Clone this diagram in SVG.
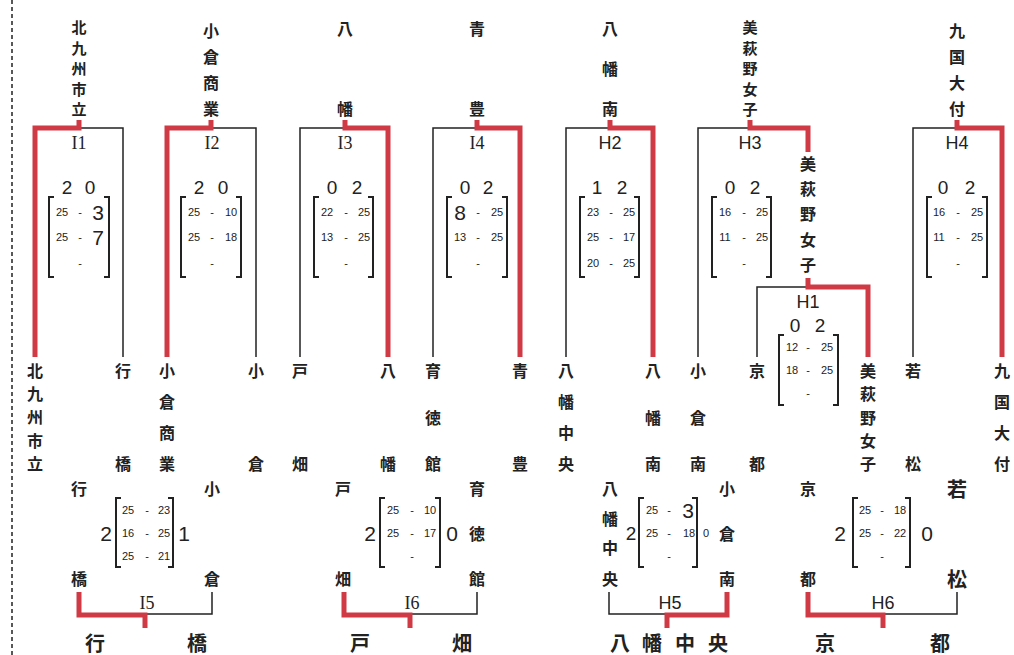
<svg xmlns="http://www.w3.org/2000/svg" width="1014" height="655" viewBox="0 0 1014 655">
<style>
.jp{font-family:"Noto Sans CJK JP","Noto Sans CJK SC",sans-serif;font-size:16px;font-weight:700;text-anchor:middle;dominant-baseline:central;fill:#222}
.tight{font-size:15px}
.win{font-size:20px}
.lbI{font-family:"Liberation Serif",serif;font-size:18px;text-anchor:middle;dominant-baseline:central;fill:#222}
.lbH{font-family:"Liberation Sans",sans-serif;font-size:18px;text-anchor:middle;dominant-baseline:central;fill:#222}
.set{font-family:"Liberation Sans",sans-serif;font-size:19px;text-anchor:middle;dominant-baseline:central;fill:#222}
.sm{font-family:"Liberation Sans",sans-serif;font-size:11px;text-anchor:middle;dominant-baseline:central;fill:#222}
.big{font-size:21px}
.red{stroke:#cf3a44;stroke-width:5;fill:none}
.blk{stroke:#222;stroke-width:1.5;fill:none}
.brk{stroke:#222;stroke-width:2;fill:none}
</style>
<rect width="1014" height="655" fill="#fff"/>
<line x1="12" y1="0" x2="12" y2="655" stroke="#222" stroke-width="1.5" stroke-dasharray="4,3"/>

<g id="connectors">
<path class="blk" d="M79 128H123V357"/><path class="red" d="M79 120V128H35V357"/>
<path class="blk" d="M211 128H256V357"/><path class="red" d="M211 120V128H167V357"/>
<path class="blk" d="M345 128H300V357"/><path class="red" d="M345 120V128H388V357"/>
<path class="blk" d="M477 128H433V357"/><path class="red" d="M477 120V128H520V357"/>
<path class="blk" d="M610 128H566V357"/><path class="red" d="M610 120V128H653V357"/>
<path class="blk" d="M750 128H698V357"/><path class="red" d="M750 120V128H808V152"/>
<path class="blk" d="M808 287H757V357"/><path class="red" d="M808 278V287H868V357"/>
<path class="blk" d="M957 128H913V357"/><path class="red" d="M957 120V128H1002V357"/>
<path class="blk" d="M145 614H212V592"/><path class="red" d="M79 592V615H145V628"/>
<path class="blk" d="M410 614H477V592"/><path class="red" d="M344 592V615H410V628"/>
<path class="blk" d="M609 592V614H667"/><path class="red" d="M727 592V615H667V628"/>
<path class="blk" d="M883 614H957V592"/><path class="red" d="M808 592V615H883V628"/>
</g>

<g id="I1">
<text class="jp tight"><tspan x="79" y="26">北</tspan><tspan x="79" y="46.5">九</tspan><tspan x="79" y="67">州</tspan><tspan x="79" y="87.5">市</tspan><tspan x="79" y="108">立</tspan></text>
<text class="lbI" x="79" y="143">I1</text>
<text class="set" x="67" y="187">2</text><text class="set" x="90" y="187">0</text>
<path class="brk" d="M54 197H49V277H54M104 197H109V277H104"/>
<text class="sm" x="62" y="212">25</text><text class="sm" x="80" y="212">-</text><text class="sm big" x="98" y="212">3</text>
<text class="sm" x="62" y="237">25</text><text class="sm" x="80" y="237">-</text><text class="sm big" x="98" y="237">7</text>
<text class="sm" x="80" y="263">-</text>
<text class="jp"><tspan x="35" y="370">北</tspan><tspan x="35" y="393">九</tspan><tspan x="35" y="416">州</tspan><tspan x="35" y="440">市</tspan><tspan x="35" y="463">立</tspan></text>
<text class="jp"><tspan x="123" y="370">行</tspan><tspan x="123" y="463">橋</tspan></text>
</g>

<g id="I2">
<text class="jp"><tspan x="211" y="30">小</tspan><tspan x="211" y="56">倉</tspan><tspan x="211" y="82">商</tspan><tspan x="211" y="108">業</tspan></text>
<text class="lbI" x="212" y="143">I2</text>
<text class="set" x="199" y="187">2</text><text class="set" x="223" y="187">0</text>
<path class="brk" d="M186 197H181V277H186M236 197H241V277H236"/>
<text class="sm" x="194" y="212">25</text><text class="sm" x="212" y="212">-</text><text class="sm" x="231" y="212">10</text>
<text class="sm" x="194" y="237">25</text><text class="sm" x="212" y="237">-</text><text class="sm" x="231" y="237">18</text>
<text class="sm" x="212" y="263">-</text>
<text class="jp"><tspan x="167" y="370">小</tspan><tspan x="167" y="401">倉</tspan><tspan x="167" y="432">商</tspan><tspan x="167" y="463">業</tspan></text>
<text class="jp"><tspan x="256" y="370">小</tspan><tspan x="256" y="463">倉</tspan></text>
</g>

<g id="I3">
<text class="jp"><tspan x="345" y="28">八</tspan><tspan x="345" y="108">幡</tspan></text>
<text class="lbI" x="345" y="143">I3</text>
<text class="set" x="332" y="187">0</text><text class="set" x="357" y="187">2</text>
<path class="brk" d="M319 197H314V277H319M368 197H373V277H368"/>
<text class="sm" x="327" y="212">22</text><text class="sm" x="346" y="212">-</text><text class="sm" x="364" y="212">25</text>
<text class="sm" x="327" y="237">13</text><text class="sm" x="346" y="237">-</text><text class="sm" x="364" y="237">25</text>
<text class="sm" x="346" y="263">-</text>
<text class="jp"><tspan x="300" y="370">戸</tspan><tspan x="300" y="463">畑</tspan></text>
<text class="jp"><tspan x="388" y="370">八</tspan><tspan x="388" y="463">幡</tspan></text>
</g>

<g id="I4">
<text class="jp"><tspan x="477" y="28">青</tspan><tspan x="477" y="108">豊</tspan></text>
<text class="lbI" x="477" y="143">I4</text>
<text class="set" x="465" y="187">0</text><text class="set" x="488" y="187">2</text>
<path class="brk" d="M452 197H447V277H452M502 197H507V277H502"/>
<text class="sm big" x="460" y="212">8</text><text class="sm" x="478" y="212">-</text><text class="sm" x="497" y="212">25</text>
<text class="sm" x="460" y="237">13</text><text class="sm" x="478" y="237">-</text><text class="sm" x="497" y="237">25</text>
<text class="sm" x="478" y="263">-</text>
<text class="jp"><tspan x="433" y="370">育</tspan><tspan x="433" y="417">徳</tspan><tspan x="433" y="463">館</tspan></text>
<text class="jp"><tspan x="520" y="370">青</tspan><tspan x="520" y="463">豊</tspan></text>
</g>

<g id="H2">
<text class="jp"><tspan x="610" y="28">八</tspan><tspan x="610" y="68">幡</tspan><tspan x="610" y="108">南</tspan></text>
<text class="lbH" x="610" y="143">H2</text>
<text class="set" x="597" y="187">1</text><text class="set" x="622" y="187">2</text>
<path class="brk" d="M585 197H580V277H585M634 197H639V277H634"/>
<text class="sm" x="593" y="212">23</text><text class="sm" x="611" y="212">-</text><text class="sm" x="629" y="212">25</text>
<text class="sm" x="593" y="237">25</text><text class="sm" x="611" y="237">-</text><text class="sm" x="629" y="237">17</text>
<text class="sm" x="593" y="263">20</text><text class="sm" x="611" y="263">-</text><text class="sm" x="629" y="263">25</text>
<text class="jp"><tspan x="566" y="370">八</tspan><tspan x="566" y="401">幡</tspan><tspan x="566" y="432">中</tspan><tspan x="566" y="463">央</tspan></text>
<text class="jp"><tspan x="653" y="370">八</tspan><tspan x="653" y="417">幡</tspan><tspan x="653" y="463">南</tspan></text>
</g>

<g id="H3">
<text class="jp tight"><tspan x="750" y="26">美</tspan><tspan x="750" y="46.5">萩</tspan><tspan x="750" y="67">野</tspan><tspan x="750" y="87.5">女</tspan><tspan x="750" y="108">子</tspan></text>
<text class="lbH" x="750" y="143">H3</text>
<text class="set" x="730" y="187">0</text><text class="set" x="755" y="187">2</text>
<path class="brk" d="M717 197H712V277H717M766 197H771V277H766"/>
<text class="sm" x="725" y="212">16</text><text class="sm" x="744" y="212">-</text><text class="sm" x="762" y="212">25</text>
<text class="sm" x="725" y="237">11</text><text class="sm" x="744" y="237">-</text><text class="sm" x="762" y="237">25</text>
<text class="sm" x="744" y="263">-</text>
<text class="jp"><tspan x="808" y="163">美</tspan><tspan x="808" y="188">萩</tspan><tspan x="808" y="213">野</tspan><tspan x="808" y="239">女</tspan><tspan x="808" y="264">子</tspan></text>
<text class="jp"><tspan x="698" y="370">小</tspan><tspan x="698" y="417">倉</tspan><tspan x="698" y="463">南</tspan></text>
</g>

<g id="H1">
<text class="lbH" x="808" y="302">H1</text>
<text class="set" x="795" y="325">0</text><text class="set" x="820" y="325">2</text>
<path class="brk" d="M784 335H779V405H784M833 335H838V405H833"/>
<text class="sm" x="792" y="347">12</text><text class="sm" x="808" y="347">-</text><text class="sm" x="827" y="347">25</text>
<text class="sm" x="792" y="370">18</text><text class="sm" x="808" y="370">-</text><text class="sm" x="827" y="370">25</text>
<text class="sm" x="808" y="393">-</text>
<text class="jp"><tspan x="757" y="370">京</tspan><tspan x="757" y="463">都</tspan></text>
<text class="jp"><tspan x="868" y="370">美</tspan><tspan x="868" y="393">萩</tspan><tspan x="868" y="417">野</tspan><tspan x="868" y="440">女</tspan><tspan x="868" y="463">子</tspan></text>
</g>

<g id="H4">
<text class="jp"><tspan x="957" y="30">九</tspan><tspan x="957" y="56">国</tspan><tspan x="957" y="82">大</tspan><tspan x="957" y="108">付</tspan></text>
<text class="lbH" x="957" y="143">H4</text>
<text class="set" x="943" y="187">0</text><text class="set" x="970" y="187">2</text>
<path class="brk" d="M932 197H927V277H932M982 197H987V277H982"/>
<text class="sm" x="939" y="212">16</text><text class="sm" x="958" y="212">-</text><text class="sm" x="977" y="212">25</text>
<text class="sm" x="939" y="237">11</text><text class="sm" x="958" y="237">-</text><text class="sm" x="977" y="237">25</text>
<text class="sm" x="958" y="263">-</text>
<text class="jp"><tspan x="913" y="370">若</tspan><tspan x="913" y="463">松</tspan></text>
<text class="jp"><tspan x="1002" y="370">九</tspan><tspan x="1002" y="401">国</tspan><tspan x="1002" y="432">大</tspan><tspan x="1002" y="463">付</tspan></text>
</g>

<g id="I5">
<text class="jp"><tspan x="79" y="488">行</tspan><tspan x="79" y="578">橋</tspan></text>
<text class="jp"><tspan x="212" y="488">小</tspan><tspan x="212" y="578">倉</tspan></text>
<text class="set big" x="106" y="533">2</text><text class="set big" x="184" y="533">1</text>
<path class="brk" d="M121 498H116V567H121M168 498H173V567H168"/>
<text class="sm" x="128" y="510">25</text><text class="sm" x="147" y="510">-</text><text class="sm" x="164" y="510">23</text>
<text class="sm" x="128" y="533">16</text><text class="sm" x="147" y="533">-</text><text class="sm" x="164" y="533">25</text>
<text class="sm" x="128" y="556">25</text><text class="sm" x="147" y="556">-</text><text class="sm" x="164" y="556">21</text>
<text class="lbI" x="147" y="603">I5</text>
<text class="jp win" x="95" y="642">行</text><text class="jp win" x="197" y="642">橋</text>
</g>

<g id="I6">
<text class="jp"><tspan x="343" y="488">戸</tspan><tspan x="343" y="578">畑</tspan></text>
<text class="jp"><tspan x="477" y="488">育</tspan><tspan x="477" y="533">徳</tspan><tspan x="477" y="578">館</tspan></text>
<text class="set big" x="370" y="533">2</text><text class="set big" x="452" y="533">0</text>
<path class="brk" d="M385 498H380V567H385M435 498H440V567H435"/>
<text class="sm" x="393" y="510">25</text><text class="sm" x="412" y="510">-</text><text class="sm" x="430" y="510">10</text>
<text class="sm" x="393" y="533">25</text><text class="sm" x="412" y="533">-</text><text class="sm" x="430" y="533">17</text>
<text class="sm" x="412" y="556">-</text>
<text class="lbI" x="412" y="603">I6</text>
<text class="jp win" x="360" y="642">戸</text><text class="jp win" x="462" y="642">畑</text>
</g>

<g id="H5">
<text class="jp"><tspan x="610" y="488">八</tspan><tspan x="610" y="518">幡</tspan><tspan x="610" y="547">中</tspan><tspan x="610" y="578">央</tspan></text>
<text class="jp"><tspan x="727" y="488">小</tspan><tspan x="727" y="533">倉</tspan><tspan x="727" y="578">南</tspan></text>
<text class="set" x="631" y="533">2</text><text class="sm" x="706" y="533">0</text>
<path class="brk" d="M644 498H639V567H644M692 498H697V567H692"/>
<text class="sm" x="652" y="510">25</text><text class="sm" x="669" y="510">-</text><text class="sm big" x="688" y="510">3</text>
<text class="sm" x="652" y="533">25</text><text class="sm" x="669" y="533">-</text><text class="sm" x="689" y="533">18</text>
<text class="sm" x="669" y="556">-</text>
<text class="lbH" x="670" y="603">H5</text>
<text class="jp win"><tspan x="620" y="642">八</tspan><tspan x="652" y="642">幡</tspan><tspan x="685" y="642">中</tspan><tspan x="718" y="642">央</tspan></text>
</g>

<g id="H6">
<text class="jp"><tspan x="808" y="488">京</tspan><tspan x="808" y="578">都</tspan></text>
<text class="jp win"><tspan x="957" y="488">若</tspan><tspan x="957" y="578">松</tspan></text>
<text class="set big" x="840" y="533">2</text><text class="set big" x="927" y="533">0</text>
<path class="brk" d="M858 498H853V567H858M905 498H910V567H905"/>
<text class="sm" x="865" y="510">25</text><text class="sm" x="882" y="510">-</text><text class="sm" x="900" y="510">18</text>
<text class="sm" x="865" y="533">25</text><text class="sm" x="882" y="533">-</text><text class="sm" x="900" y="533">22</text>
<text class="sm" x="882" y="556">-</text>
<text class="lbH" x="883" y="603">H6</text>
<text class="jp win" x="825" y="642">京</text><text class="jp win" x="940" y="642">都</text>
</g>
</svg>
